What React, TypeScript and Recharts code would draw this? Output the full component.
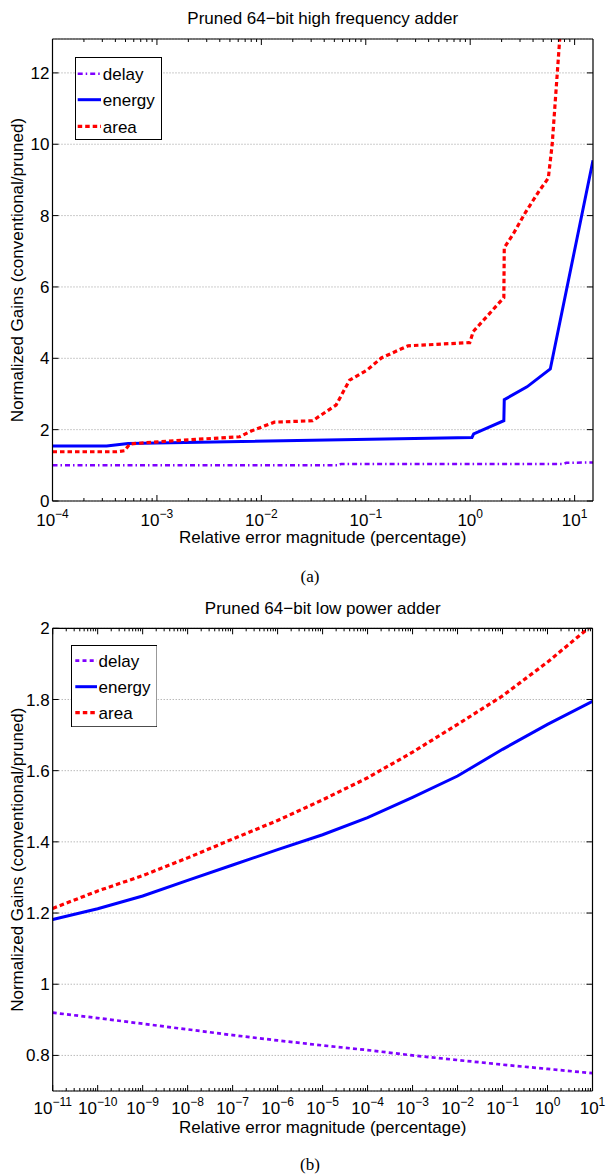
import React from 'react';
import { LineChart, Line, XAxis, YAxis, CartesianGrid, Legend } from 'recharts';

const FONT = '"Liberation Sans", Arial, Helvetica, sans-serif';
const SERIF = '"Liberation Serif", "Times New Roman", serif';

// ---------- Panel (a): Pruned 64-bit high frequency adder ----------
const aTitle = 'Pruned 64\u2212bit high frequency adder';
const aXTicks = [1e-4, 1e-3, 1e-2, 1e-1, 1e0, 1e1];
const aYTicks = [0, 2, 4, 6, 8, 10, 12];
const aDelayX = [1e-4, 0.055, 0.058, 7.9, 8.3, 15];
const aDelayY = [1.0, 1.0, 1.04, 1.04, 1.07, 1.08];
const aEnergyX = [1e-4, 3.3e-4, 5.3e-4, 1.04, 1.08, 2.1, 2.12, 3.5, 5.85, 15];
const aEnergyY = [1.54, 1.54, 1.61, 1.78, 1.88, 2.25, 2.84, 3.2, 3.7, 9.55];
const aAreaX = [1e-4, 4.1e-4, 4.9e-4, 5.5e-4, 1.45e-3, 6.2e-3, 8e-3, 0.0133, 0.031, 0.052, 0.07, 0.103, 0.141, 0.254, 0.99, 1.07, 2.1, 2.12, 2.6, 3.4, 4.6, 5.6, 6.1, 7.2];
const aAreaY = [1.38, 1.38, 1.41, 1.6, 1.69, 1.8, 1.96, 2.21, 2.25, 2.69, 3.39, 3.67, 4.01, 4.35, 4.44, 4.75, 5.7, 7.1, 7.5, 8.1, 8.7, 9.05, 10.0, 12.95];

// ---------- Panel (b): Pruned 64-bit low power adder ----------
const bTitle = 'Pruned 64\u2212bit low power adder';
const bXTicks = [1e-11, 1e-10, 1e-9, 1e-8, 1e-7, 1e-6, 1e-5, 1e-4, 1e-3, 1e-2, 1e-1, 1e0, 1e1];
const bYTicks = [0.8, 1, 1.2, 1.4, 1.6, 1.8, 2];
const bX = [1e-11, 1e-10, 1e-9, 1e-8, 1e-7, 1e-6, 1e-5, 1e-4, 1e-3, 1e-2, 1e-1, 1e0, 1e1];
const bDelayY = [0.92, 0.905, 0.889, 0.873, 0.857, 0.842, 0.828, 0.815, 0.8, 0.787, 0.774, 0.762, 0.75];
const bEnergyY = [1.182, 1.212, 1.248, 1.292, 1.335, 1.378, 1.42, 1.468, 1.525, 1.585, 1.66, 1.73, 1.795];
const bAreaY = [1.213, 1.262, 1.305, 1.355, 1.408, 1.46, 1.518, 1.58, 1.652, 1.73, 1.81, 1.905, 2.01];

const xLabel = 'Relative error magnitude (percentage)';
const yLabel = 'Normalized Gains (conventional/pruned)';
const seriesNames = ['delay', 'energy', 'area'];

const zip = (xs: number[], ys: number[]) => xs.map((x, i) => ({ x, y: ys[i] }));

const minorTicks = (lo: number, hi: number) => {
  const out: number[] = [];
  for (let d = Math.floor(Math.log10(lo)); d <= Math.ceil(Math.log10(hi)); d++) {
    for (let k = 2; k <= 9; k++) {
      const v = k * Math.pow(10, d);
      if (v > lo && v < hi) out.push(v);
    }
  }
  return out;
};

type Style = { color: string; width: number; dash?: string };

const NoTick = () => <g />;

const PowTick = (props: any) => {
  const { x, y, payload, dyBase } = props;
  const e = Math.round(Math.log10(payload.value));
  const exp = e < 0 ? '\u2212' + Math.abs(e) : String(e);
  return (
    <text x={x} y={y + dyBase} textAnchor="middle" fontFamily={FONT} fontSize={17} fill="#000">
      <tspan>10</tspan>
      <tspan dy={-8} fontSize={12}>{exp}</tspan>
    </text>
  );
};

const LegendBox = ({ items, w, h, rows, lx, tx }: any) => (
  <svg width={w} height={h} style={{ display: 'block' }}>
    <rect x={0.5} y={0.5} width={w - 1} height={h - 1} fill="#fff" stroke="#000" strokeWidth={1} />
    {items.map((it: any, i: number) => (
      <g key={it.name}>
        <line x1={lx[0]} x2={lx[1]} y1={rows[i]} y2={rows[i]} stroke={it.style.color} strokeWidth={it.style.width} strokeDasharray={it.style.dash} />
        <text x={tx} y={rows[i]} dy="0.36em" fontSize={17} fontFamily={FONT} fill="#000">{it.name}</text>
      </g>
    ))}
  </svg>
);

type PanelProps = {
  series: { name: string; data: { x: number; y: number }[]; style: Style }[];
  xDomain: [number, number];
  yDomain: [number, number];
  xTicks: number[];
  yTicks: number[];
  margin: { top: number; right: number; bottom: number; left: number };
  labelBase: number;
  legendPos: { left: number; top: number; w: number; h: number; rows: number[]; lx: number[]; tx: number };
};

const Panel = ({ series, xDomain, yDomain, xTicks, yTicks, margin, labelBase, legendPos }: PanelProps) => {
  const minors = minorTicks(xDomain[0], xDomain[1]);
  const common = { type: 'number' as const, scale: 'log' as const, domain: xDomain, allowDataOverflow: true, dataKey: 'x', interval: 0 as const };
  const ycommon = { type: 'number' as const, domain: yDomain, allowDataOverflow: true, ticks: yTicks, interval: 0 as const };
  return (
    <LineChart width={606} height={560} margin={margin}>
      <CartesianGrid vertical={false} horizontal stroke="#9a9a9a" strokeDasharray="1 2" strokeWidth={1} />
      <XAxis {...common} xAxisId={0} ticks={xTicks} height={40} tickSize={-6} tickMargin={6}
        axisLine={{ stroke: '#000', strokeWidth: 1.2 }} tickLine={{ stroke: '#000' }}
        tick={(p: any) => <PowTick {...p} dyBase={labelBase} />} />
      <XAxis {...common} xAxisId="bm" orientation="bottom" mirror height={0.01} ticks={minors} tickSize={3} tick={NoTick}
        axisLine={false} tickLine={{ stroke: '#000' }} />
      <XAxis {...common} xAxisId="t" orientation="top" mirror height={0.01} ticks={xTicks} tickSize={6} tick={NoTick}
        axisLine={{ stroke: '#000', strokeWidth: 1.2 }} tickLine={{ stroke: '#000' }} />
      <XAxis {...common} xAxisId="tm" orientation="top" mirror height={0.01} ticks={minors} tickSize={3} tick={NoTick}
        axisLine={false} tickLine={{ stroke: '#000' }} />
      <YAxis {...ycommon} yAxisId={0} width={40} tickSize={-6} tickMargin={9}
        axisLine={{ stroke: '#000', strokeWidth: 1.2 }} tickLine={{ stroke: '#000' }}
        tick={{ fontSize: 17, fill: '#000', fontFamily: FONT }} />
      <YAxis {...ycommon} yAxisId="r" orientation="right" mirror width={0.01} tickSize={6} tick={NoTick}
        axisLine={{ stroke: '#000', strokeWidth: 1.2 }} tickLine={{ stroke: '#000' }} />
      {series.map((s) => (
        <Line key={s.name} name={s.name} data={s.data} dataKey="y" type="linear" stroke={s.style.color}
          strokeWidth={s.style.width} strokeDasharray={s.style.dash} dot={false} activeDot={false}
          isAnimationActive={false} xAxisId={0} yAxisId={0} />
      ))}
      <Legend layout="vertical" align="center" verticalAlign="middle"
        wrapperStyle={{ position: 'absolute', left: legendPos.left, top: legendPos.top, width: legendPos.w, height: legendPos.h }}
        content={() => (
          <LegendBox items={series} w={legendPos.w} h={legendPos.h}
            rows={legendPos.rows} lx={legendPos.lx} tx={legendPos.tx} />
        )} />
    </LineChart>
  );
};

const purpleDashDot: Style = { color: '#7f00ff', width: 2.5, dash: '5 3 1.5 3' };
const purpleDot: Style = { color: '#7f00ff', width: 2.7, dash: '4 3.2' };
const blueSolid: Style = { color: '#0000ff', width: 3 };
const redDot: Style = { color: '#ff0000', width: 3.2, dash: '4.5 3' };

export default function App() {
  const aSeries = [
    { name: seriesNames[0], data: zip(aDelayX, aDelayY), style: purpleDashDot },
    { name: seriesNames[1], data: zip(aEnergyX, aEnergyY), style: blueSolid },
    { name: seriesNames[2], data: zip(aAreaX, aAreaY), style: redDot },
  ];
  const bSeries = [
    { name: seriesNames[0], data: zip(bX, bDelayY), style: purpleDot },
    { name: seriesNames[1], data: zip(bX, bEnergyY), style: blueSolid },
    { name: seriesNames[2], data: zip(bX, bAreaY), style: redDot },
  ];
  return (
    <div style={{ position: 'absolute', left: 0, top: 0, width: 606, height: 1176, background: '#fff', overflow: 'hidden' }}>
      <div style={{ position: 'absolute', left: 0, top: 0 }}>
        <Panel series={aSeries} xDomain={[1e-4, 15]} yDomain={[0, 12.95]} xTicks={aXTicks} yTicks={aYTicks}
          margin={{ top: 39, right: 13, bottom: 19, left: 12.5 }} labelBase={25}
          legendPos={{ left: 74.6, top: 57.3, w: 87, h: 83, rows: [16.7, 42.7, 69.4], lx: [2.7, 26], tx: 27.8 }} />
      </div>
      <div style={{ position: 'absolute', left: 0, top: 590 }}>
        <Panel series={bSeries} xDomain={[1e-11, 10]} yDomain={[0.7, 2]} xTicks={bXTicks} yTicks={bYTicks}
          margin={{ top: 38.3, right: 13.5, bottom: 19, left: 12.7 }} labelBase={23}
          legendPos={{ left: 70.7, top: 55, w: 86.6, h: 82.3, rows: [15.7, 41.7, 67.7], lx: [4.3, 26], tx: 27.6 }} />
      </div>
      <svg width={606} height={1176} style={{ position: 'absolute', left: 0, top: 0, pointerEvents: 'none' }}>
        <text x={322.7} y={24} textAnchor="middle" fontFamily={FONT} fontSize={17} fill="#000">{aTitle}</text>
        <text x={322.7} y={543} textAnchor="middle" fontFamily={FONT} fontSize={17} fill="#000">{xLabel}</text>
        <text transform="translate(23,270) rotate(-90)" textAnchor="middle" fontFamily={FONT} fontSize={17} fill="#000">{yLabel}</text>
        <text x={310} y={582} textAnchor="middle" fontFamily={SERIF} fontSize={17} fill="#000">(a)</text>
        <text x={322.7} y={614} textAnchor="middle" fontFamily={FONT} fontSize={17} fill="#000">{bTitle}</text>
        <text x={322.7} y={1133} textAnchor="middle" fontFamily={FONT} fontSize={17} fill="#000">{xLabel}</text>
        <text transform="translate(23,859.7) rotate(-90)" textAnchor="middle" fontFamily={FONT} fontSize={17} fill="#000">{yLabel}</text>
        <text x={310} y={1170} textAnchor="middle" fontFamily={SERIF} fontSize={17} fill="#000">(b)</text>
      </svg>
    </div>
  );
}
